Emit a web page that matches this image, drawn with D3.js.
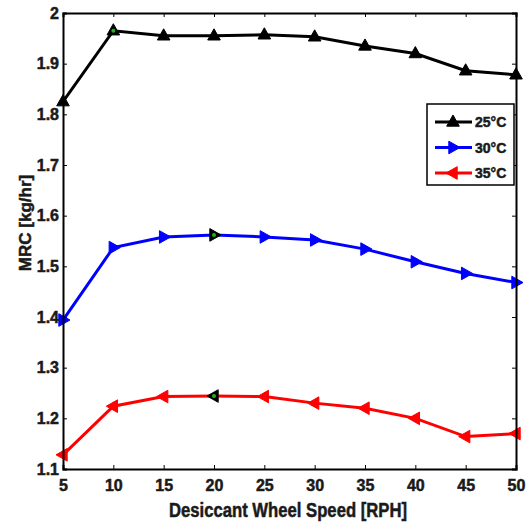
<!DOCTYPE html>
<html>
<head>
<meta charset="utf-8">
<script src="https://cdn.jsdelivr.net/npm/d3@7"></script>
<style>
  body { margin: 0; background: #fff; }
  svg text { font-family: "Liberation Sans", Arial, sans-serif !important; font-weight: 700 !important; stroke: #1a1a1a; stroke-width: 0.5px; }
</style>
</head>
<body>
<div class="chart"></div>
<script>
// chart size
var width = 526;
var height = 524;
var margin = {top: 13, right: 10, bottom: 55, left: 63};

// data
var speeds = [5, 10, 15, 20, 25, 30, 35, 40, 45, 50];
var mrc25 = [1.825, 1.965, 1.955, 1.955, 1.957, 1.953, 1.935, 1.920, 1.886, 1.878];
var mrc30 = [1.394, 1.537, 1.558, 1.562, 1.558, 1.552, 1.534, 1.509, 1.486, 1.468];
var mrc35 = [1.128, 1.224, 1.243, 1.244, 1.243, 1.230, 1.220, 1.200, 1.164, 1.170];
var seriesNames = ["25\u00B0C", "30\u00B0C", "35\u00B0C"];
var xTicks = [5, 10, 15, 20, 25, 30, 35, 40, 45, 50];
var yTicks = [1.1, 1.2, 1.3, 1.4, 1.5, 1.6, 1.7, 1.8, 1.9, 2];

var series = [
  {name: seriesNames[0], values: mrc25, color: "#000000", marker: "up", tip: 1},
  {name: seriesNames[1], values: mrc30, color: "#0000ff", marker: "right", tip: 3},
  {name: seriesNames[2], values: mrc35, color: "#ff0000", marker: "left", tip: 3}
];

var svg = d3.select(".chart")
            .append("svg")
            .attr("width", width)
            .attr("height", height);

const xScale = d3.scaleLinear()
                 .domain([5, 50])
                 .range([margin.left, width - margin.right]);
const yScale = d3.scaleLinear()
                 .domain([1.1, 2])
                 .range([height - margin.bottom, margin.top]);

// triangle path centred on 0,0
function tri(dir, s) {
  var pts;
  if (dir == "up") pts = [[0, -s], [s * 0.9, s * 0.6], [-s * 0.9, s * 0.6]];
  else if (dir == "right") pts = [[s, 0], [-s * 0.6, -s * 0.9], [-s * 0.6, s * 0.9]];
  else pts = [[-s, 0], [s * 0.6, -s * 0.9], [s * 0.6, s * 0.9]];
  return "M" + pts.map(p => p.join(",")).join("L") + "Z";
}

var line = d3.line()
             .x((d, i) => xScale(speeds[i]))
             .y(d => yScale(d));

series.forEach(function(s) {
  svg.append("path")
     .attr("d", line(s.values))
     .attr("fill", "none")
     .attr("stroke", s.color)
     .attr("stroke-width", 3);

  svg.selectAll(null)
     .data(s.values)
     .enter()
     .append("path")
     .attr("transform", (d, i) => "translate(" + xScale(speeds[i]) + "," + yScale(d) + ")")
     .attr("d", tri(s.marker, 7))
     .attr("fill", (d, i) => i == s.tip ? "#000" : s.color)
     .attr("stroke", (d, i) => i == s.tip ? "#000" : s.color)
     .attr("stroke-width", 1);

  // green data-tip dot
  svg.append("circle")
     .attr("cx", xScale(speeds[s.tip]))
     .attr("cy", yScale(s.values[s.tip]))
     .attr("r", 2)
     .attr("fill", "#1db31d");
});

// axes with inward ticks
const xAxis = d3.axisBottom(xScale).tickValues(xTicks).tickSize(-4).tickPadding(11).tickFormat(d3.format("d"));
const yAxis = d3.axisLeft(yScale).tickValues(yTicks).tickSize(-4).tickPadding(4).tickFormat(d => d == 2 ? "2" : d3.format(".1f")(d));

svg.append("g")
   .attr("transform", "translate(0," + (height - margin.bottom) + ")")
   .call(xAxis);
svg.append("g")
   .attr("transform", "translate(" + margin.left + ",0)")
   .call(yAxis);

// top and right ticks
svg.append("g")
   .attr("transform", "translate(0," + margin.top + ")")
   .call(d3.axisTop(xScale).tickValues(xTicks).tickSize(-4).tickFormat(""));
svg.append("g")
   .attr("transform", "translate(" + (width - margin.right) + ",0)")
   .call(d3.axisRight(yScale).tickValues(yTicks).tickSize(-4).tickFormat(""));

svg.selectAll(".domain").attr("stroke", "#000").attr("stroke-width", 2);
svg.selectAll(".tick line").attr("stroke", "#000");
svg.selectAll(".tick text")
   .attr("font-size", 16)
   .attr("fill", "#1a1a1a");

// axis titles
svg.append("text")
   .attr("x", 288)
   .attr("y", 517)
   .attr("text-anchor", "middle")
   .attr("font-size", 20)
   .attr("textLength", 238)
   .attr("lengthAdjust", "spacingAndGlyphs")
   .attr("fill", "#1a1a1a")
   .text("Desiccant Wheel Speed [RPH]");

svg.append("text")
   .attr("transform", "translate(31,223) rotate(-90)")
   .attr("text-anchor", "middle")
   .attr("font-size", 17)
   .attr("fill", "#1a1a1a")
   .text("MRC [kg/hr]");

// legend
var lg = svg.append("g").attr("transform", "translate(427,104)");
lg.append("rect")
  .attr("width", 87)
  .attr("height", 81)
  .attr("fill", "#fff")
  .attr("stroke", "#000")
  .attr("stroke-width", 1.5);

series.forEach(function(s, i) {
  var yy = 18 + i * 25.5;
  lg.append("line")
    .attr("x1", 8).attr("x2", 45)
    .attr("y1", yy).attr("y2", yy)
    .attr("stroke", s.color)
    .attr("stroke-width", 3);
  lg.append("path")
    .attr("transform", "translate(26," + yy + ")")
    .attr("d", tri(s.marker, 7))
    .attr("fill", s.color)
    .attr("stroke", s.color);
  lg.append("text")
    .attr("x", 48)
    .attr("y", yy + 5)
    .attr("font-size", 14)
    .attr("fill", "#1a1a1a")
    .text(s.name);
});
</script>
</body>
</html>
